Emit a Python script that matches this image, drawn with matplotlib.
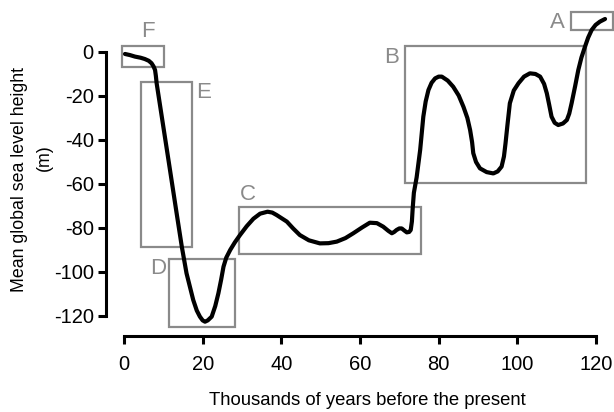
import matplotlib
matplotlib.use("Agg")
import matplotlib.pyplot as plt
from matplotlib.patches import Rectangle

plt.rcParams['font.family'] = ['Liberation Sans', 'DejaVu Sans']
plt.rcParams['axes.unicode_minus'] = False

# sea level curve (kyr BP, metres)
years = [0.25, 1.5, 2.8, 4.2, 5.3, 6.3, 7.0, 7.5, 7.9, 8.1, 8.3, 9.6, 11.3,
         12.5, 13.4, 14.7, 15.9, 16.8, 17.6, 18.5, 19.3, 20.0, 20.6, 21.3,
         22.3, 23.2, 24.0, 24.7, 25.3, 26.0, 27.0, 28.2, 29.5, 31.2, 32.9,
         34.6, 36.5, 37.7, 38.8, 40.1, 41.4, 43.0, 44.7, 47.0, 49.8, 52.0,
         54.1, 56.3, 58.3, 60.5, 62.5, 64.3, 65.9, 67.2, 68.1, 68.7, 69.3,
         70.0, 70.6, 71.3, 71.9, 72.5, 72.9, 73.2, 73.4, 73.7, 74.4, 75.3,
         76.1, 76.7, 77.4, 78.2, 79.1, 80.0, 80.8, 82.3, 83.7, 85.1, 86.3,
         87.3, 88.0, 88.5, 88.8, 89.5, 90.5, 92.2, 93.9, 95.0, 96.0, 96.6,
         97.0, 97.5, 98.1, 99.1, 100.3, 101.7, 103.2, 104.6, 105.8, 106.8,
         107.5, 108.1, 108.7, 109.5, 110.4, 111.6, 112.6, 113.2, 113.8,
         114.7, 115.5, 116.3, 117.2, 118.0, 118.9, 119.9, 121.0, 122.3]
level = [-0.9, -1.4, -2.1, -2.6, -3.2, -4.0, -5.1, -6.5, -8.2, -10.8, -14.2,
         -29.3, -49.0, -63.0, -73.5, -88.5, -100.6, -107.0, -112.7, -117.5,
         -120.3, -122.0, -122.6, -122.0, -120.3, -115.5, -109.7, -103.5,
         -97.6, -93.5, -90.0, -86.5, -83.2, -79.2, -75.8, -73.5, -72.6, -73.0,
         -74.1, -75.6, -77.1, -80.2, -83.2, -85.6, -87.0, -86.9, -86.2, -84.6,
         -82.4, -79.8, -77.6, -77.8, -79.4, -81.3, -82.4, -81.8, -80.9, -80.2,
         -80.2, -81.2, -82.0, -81.8, -80.9, -77.0, -71.0, -64.0, -57.0, -44.5,
         -29.4, -22.5, -17.3, -14.0, -12.0, -11.2, -11.2, -13.0, -15.8, -19.8,
         -24.9, -30.0, -35.5, -41.0, -46.0, -50.0, -52.9, -54.6, -55.2, -54.3,
         -52.1, -47.5, -41.5, -33.0, -23.3, -17.5, -14.2, -11.2, -9.7, -10.0,
         -11.2, -14.5, -18.8, -24.0, -29.4, -32.2, -33.2, -32.5, -30.9, -28.0,
         -23.3, -15.5, -8.2, -2.5, 2.4, 6.5, 10.0, 12.3, 13.8, 15.0]

# highlighted periods: letter, x0, x1, y0, y1
box_names = ['A', 'B', 'C', 'D', 'E', 'F']
box_x0 = [113.7, 71.4, 29.3, 11.5, 4.3, -0.4]
box_x1 = [124.2, 117.5, 75.5, 28.2, 17.2, 10.2]
box_y0 = [10.0, -59.7, -91.8, -124.9, -88.8, -6.7]
box_y1 = [18.3, 2.7, -70.3, -94.2, -13.5, 2.7]
# letter positions
lab_x = [110.3, 68.1, 31.5, 8.6, 20.3, 6.1]
lab_y = [13.6, -2.3, -65.0, -98.6, -18.2, 9.1]

x_ticks = [0, 20, 40, 60, 80, 100, 120]
y_ticks = [0, -20, -40, -60, -80, -100, -120]

GRAY = '#8a8a8a'

fig = plt.figure(figsize=(6.14, 4.12), dpi=100)
ax = fig.add_axes([0.1731, 0.185, 0.8232, 0.7796])

ax.plot(years, level, color='black', lw=3.0, solid_joinstyle='round',
        solid_capstyle='round', zorder=3)

for i, name in enumerate(box_names):
    r = Rectangle((box_x0[i], box_y0[i]), box_x1[i] - box_x0[i],
                  box_y1[i] - box_y0[i], fill=False, edgecolor=GRAY,
                  lw=1.6, clip_on=False, zorder=2)
    ax.add_patch(r)
    ax.text(lab_x[i], lab_y[i], name, color=GRAY, fontsize=16,
            ha='center', va='center')

ax.set_xlim(-4.5, 124)
ax.set_ylim(-129, 17)

for s in ['top', 'right']:
    ax.spines[s].set_visible(False)
ax.spines['left'].set_bounds(-120, 0)
ax.spines['bottom'].set_bounds(0, 120)
for s in ['left', 'bottom']:
    ax.spines[s].set_linewidth(2.2)

ax.set_xticks(x_ticks)
ax.set_yticks(y_ticks)
ax.tick_params(width=2.2, length=5.5, labelsize=14.5)
ax.tick_params(axis='x', pad=8)
ax.tick_params(axis='y', pad=3.5)

ax.set_xlabel('Thousands of years before the present', fontsize=13.3,
              va='center')
ax.xaxis.set_label_coords(0.517, -0.2)

# y label: two lines placed separately as in the reference
fig.text(20 / 614, 1 - 180 / 412, 'Mean global sea level height',
         rotation=90, fontsize=12.8, ha='center', va='center')
fig.text(44 / 614, 1 - 158 / 412, '(m)', rotation=90, fontsize=12.8,
         ha='center', va='center')

fig.savefig('out.png', dpi=100)
